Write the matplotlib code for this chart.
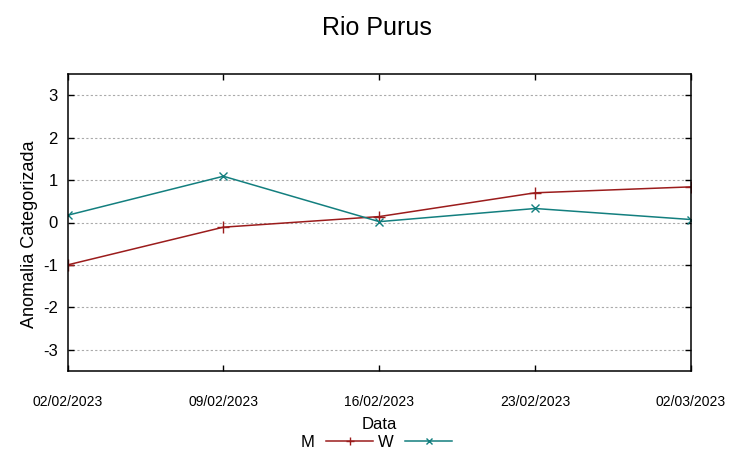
import numpy as np
import matplotlib
matplotlib.use('Agg')
import matplotlib.pyplot as plt

plt.rcParams['font.family'] = ['Liberation Sans', 'DejaVu Sans']

# Data
dates = ['02/02/2023', '09/02/2023', '16/02/2023', '23/02/2023', '02/03/2023']
m_values = [-1.00, -0.11, 0.14, 0.70, 0.84]
w_values = [0.17, 1.09, 0.02, 0.33, 0.07]
y_ticks = [-3, -2, -1, 0, 1, 2, 3]

x = np.arange(len(dates))

fig = plt.figure(figsize=(7.53, 4.59), dpi=100)
ax = fig.add_axes([67.5 / 753, 1 - 371 / 459, (691 - 67.5) / 753, (371 - 74) / 459])

ax.plot(x, m_values, color='#9b1c1c', lw=1.1, marker='+', ms=8, mew=1.0, label='M')
ax.plot(x, w_values, color='#137f7f', lw=1.1, marker='x', ms=6, mew=1.0, label='W')

ax.set_xlim(x[0], x[-1])
ax.set_ylim(-3.5, 3.5)
ax.set_xticks(x)
ax.set_xticklabels(dates, fontsize=10)
ax.set_yticks(y_ticks)
ax.set_yticklabels([str(v) for v in y_ticks], fontsize=12)
ax.tick_params(direction='in', length=4, width=1, top=True, right=True)
ax.tick_params(axis='x', pad=17)
ax.tick_params(axis='y', pad=7)
ax.yaxis.grid(True, linestyle=(0, (2, 2)), color='#aaaaaa', lw=0.8)
for s in ax.spines.values():
    s.set_linewidth(1.1)

ax.set_xlabel('Data', fontsize=12, labelpad=6)
ax.set_ylabel('Anomalia Categorizada', fontsize=13)
ax.yaxis.set_label_coords(-0.047, 0.461)
fig.suptitle('Rio Purus', fontsize=18, y=0.965)

fig.legend(loc='lower center', bbox_to_anchor=(0.5, -0.012), ncol=2, frameon=False,
           markerfirst=False, fontsize=12, handlelength=2.8, columnspacing=0.3,
           handletextpad=0.7, markerscale=0.8)

fig.savefig('out.png', dpi=100)
